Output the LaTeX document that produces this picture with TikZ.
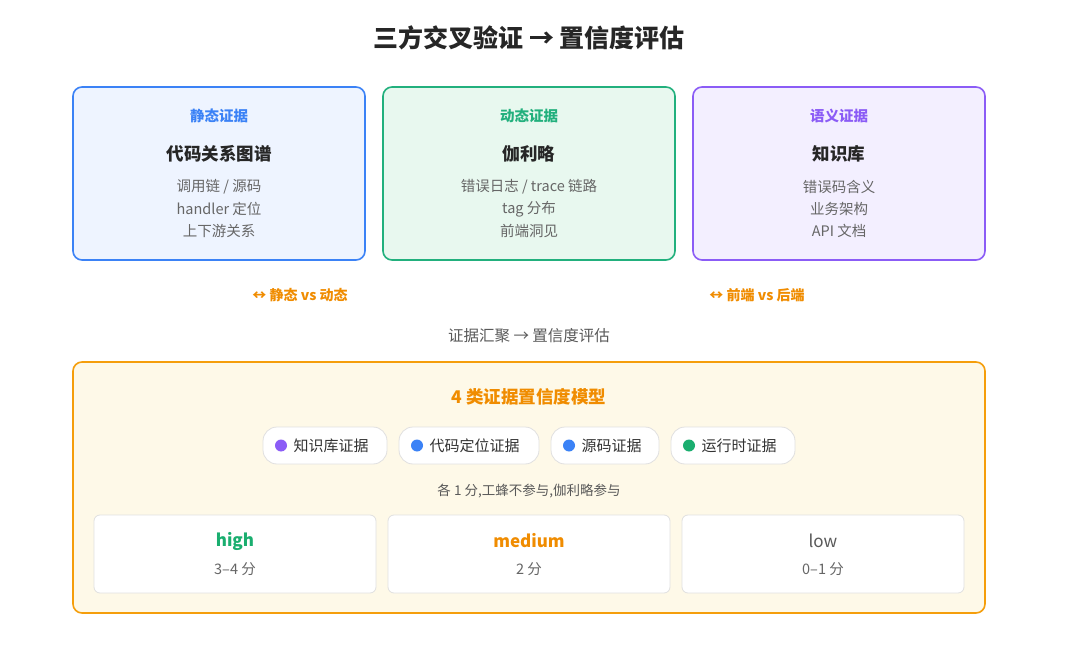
\documentclass[tikz,border=0pt]{standalone}
\usepackage{fontspec}
\setmainfont{Noto Sans CJK SC}
\begin{document}
\begin{tikzpicture}[x=1pt,y=-1pt,
  panel/.style={rounded corners=9pt,line width=1.6pt},
  card/.style={rounded corners=6pt,draw=black!12,fill=white,line width=0.8pt},
  pill/.style={rounded corners=14pt,draw=black!12,fill=white,line width=0.8pt},
  head/.style={font=\fontsize{14.5}{17}\selectfont\bfseries},
  ttl/.style={font=\fontsize{17.5}{20}\selectfont\bfseries,text=black!85},
  ln/.style={font=\fontsize{14.5}{17}\selectfont,text=black!60},
  tag/.style={font=\fontsize{14}{16}\selectfont\bfseries,text=orange2},
  ptxt/.style={font=\fontsize{15}{17}\selectfont,text=black!80,anchor=west}]
\definecolor{blue1}{HTML}{3B82F6}\definecolor{blueF}{HTML}{EEF4FF}
\definecolor{green1}{HTML}{22B07D}\definecolor{greenF}{HTML}{E8F8EF}
\definecolor{purp1}{HTML}{8B5CF6}\definecolor{purpF}{HTML}{F3EFFF}
\definecolor{orange1}{HTML}{F59E0B}\definecolor{orangeF}{HTML}{FEF9E8}
\definecolor{orange2}{HTML}{F08C00}
\definecolor{green2}{HTML}{1AAE6F}
\useasboundingbox[fill=white] (0,0) rectangle (1080,650);
\node[font=\fontsize{25}{29}\selectfont\bfseries,text=black!85] (title) at (529,38) {三方交叉验证 → 置信度评估};
% panels
\draw[panel,draw=blue1,fill=blueF] (73,87) rectangle (365,260);
\draw[panel,draw=green1,fill=greenF] (383,87) rectangle (675,260);
\draw[panel,draw=purp1,fill=purpF] (693,87) rectangle (985,260);
\node[head,text=blue1] (h1) at (219,116) {静态证据};
\node[ttl] (t1) at (219,154) {代码关系图谱};
\node[ln] (a1) at (219,187) {调用链 / 源码};
\node[ln] (a2) at (219,209) {handler 定位};
\node[ln] (a3) at (219,231) {上下游关系};
\node[head,text=green1] (h2) at (529,116) {动态证据};
\node[ttl] (t2) at (529,154) {伽利略};
\node[ln] (b1) at (529,187) {错误日志 / trace 链路};
\node[ln] (b2) at (529,209) {tag 分布};
\node[ln] (b3) at (529,231) {前端洞见};
\node[head,text=purp1] (h3) at (839,116) {语义证据};
\node[ttl] (t3) at (839,154) {知识库};
\node[ln] (c1) at (839,187) {错误码含义};
\node[ln] (c2) at (839,209) {业务架构};
\node[ln] (c3) at (839,231) {API 文档};
\node[tag] (x1) at (300,295) {↔ 静态 vs 动态};
\node[tag] (x2) at (757,295) {↔ 前端 vs 后端};
\node[font=\fontsize{15.5}{18}\selectfont,text=black!65] (conv) at (529,336) {证据汇聚 → 置信度评估};
% bottom
\draw[panel,draw=orange1,fill=orangeF] (73,362) rectangle (985,613);
\node[font=\fontsize{17.5}{20}\selectfont\bfseries,text=orange2] (mt) at (529,397) {4 类证据置信度模型};
\draw[pill] (263,427) rectangle (387,464);
\draw[pill] (399,427) rectangle (539,464);
\draw[pill] (551,427) rectangle (659,464);
\draw[pill] (671,427) rectangle (795,464);
\fill[purp1] (281,445.5) circle (6);
\fill[blue1] (417,445.5) circle (6);
\fill[blue1] (569,445.5) circle (6);
\fill[green2] (689,445.5) circle (6);
\node[ptxt] (p1) at (290,445.5) {知识库证据};
\node[ptxt] (p2) at (426,445.5) {代码定位证据};
\node[ptxt] (p3) at (578,445.5) {源码证据};
\node[ptxt] (p4) at (698,445.5) {运行时证据};
\node[font=\fontsize{13.5}{16}\selectfont,text=black!65] (note) at (529,491) {各 1 分,工蜂不参与,伽利略参与};
\draw[card] (94,515) rectangle (376,593);
\draw[card] (388,515) rectangle (670,593);
\draw[card] (682,515) rectangle (964,593);
\node[font=\fontsize{17}{20}\selectfont\bfseries,text=green2] (k1) at (235,541) {high};
\node[ln] (v1) at (235,569) {3–4 分};
\node[font=\fontsize{17}{20}\selectfont\bfseries,text=orange2] (k2) at (529,541) {medium};
\node[ln] (v2) at (529,569) {2 分};
\node[font=\fontsize{17}{20}\selectfont,text=black!65] (k3) at (823,541) {low};
\node[ln] (v3) at (823,569) {0–1 分};
\end{tikzpicture}
\end{document}
